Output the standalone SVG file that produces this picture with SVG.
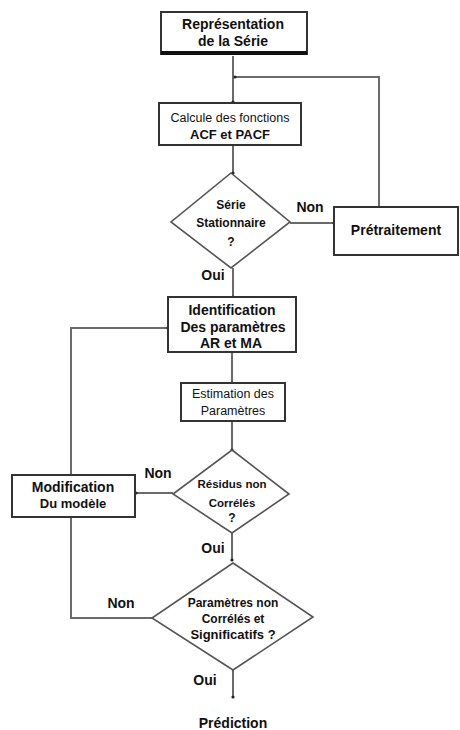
<svg xmlns="http://www.w3.org/2000/svg" width="460" height="730" viewBox="0 0 460 730">
<style>
.box{fill:#fff;stroke:#333;stroke-width:2}
.dia{fill:#fff;stroke:#555;stroke-width:1.6}
.ln{fill:none;stroke:#6a6a6a;stroke-width:2}
.t{font-family:"Liberation Sans",Arial,sans-serif;font-weight:bold;font-size:14px;fill:#111;text-anchor:middle}
.s{font-family:"Liberation Sans",Arial,sans-serif;font-size:12.5px;fill:#111;text-anchor:middle}
.sb{font-family:"Liberation Sans",Arial,sans-serif;font-weight:bold;font-size:12px;fill:#111;text-anchor:middle}
</style>
<defs>
<marker id="dot" markerWidth="4" markerHeight="4" refX="2" refY="2" markerUnits="userSpaceOnUse">
<circle cx="2" cy="2" r="1.6" fill="#222"/>
</marker>
</defs>
<g id="connectors">
<path class="ln" d="M233,56 V102" marker-end="url(#dot)"/>
<path class="ln" d="M379,207 V77 H235" marker-end="url(#dot)"/>
<path class="ln" d="M233,145 V173" marker-end="url(#dot)"/>
<path class="ln" d="M290,223 H334" marker-end="url(#dot)"/>
<path class="ln" d="M233,268 V297" marker-end="url(#dot)"/>
<path class="ln" d="M232,352 V383" marker-end="url(#dot)"/>
<path class="ln" d="M232,421 V450" marker-end="url(#dot)"/>
<path class="ln" d="M173,493 H136" marker-end="url(#dot)"/>
<path class="ln" d="M232,533 V560" marker-end="url(#dot)"/>
<path class="ln" d="M152,618 H71 V517"/>
<path class="ln" d="M71,475 V328 H168" marker-end="url(#dot)"/>
<path class="ln" d="M233,670 V697" marker-end="url(#dot)"/>
<text class="t" x="310" y="212">Non</text>
<text class="t" x="213" y="280">Oui</text>
<text class="t" x="158" y="478">Non</text>
<text class="t" x="213" y="553">Oui</text>
<text class="t" x="121" y="608">Non</text>
<text class="t" x="205" y="685">Oui</text>
</g>
<g id="representation">
<rect class="box" x="161" y="12" width="146" height="42"/>
<rect x="161" y="51" width="146" height="4" fill="#111"/>
<text class="t" x="233" y="29">Représentation</text>
<text class="t" x="233" y="46">de la Série</text>
</g>
<g id="calcule">
<rect class="box" x="159" y="103" width="142" height="42"/>
<text class="s" x="230" y="122">Calcule des fonctions</text>
<text class="t" x="230" y="139" style="font-size:13px">ACF et PACF</text>
</g>
<g id="stationnaire">
<polygon class="dia" points="231,173 290,222 231,268 171,222"/>
<text class="sb" x="231" y="209">Série</text>
<text class="sb" x="231" y="227">Stationnaire</text>
<text class="sb" x="231" y="246">?</text>
</g>
<g id="pretraitement">
<rect class="box" x="334" y="207" width="124" height="48"/>
<text class="t" x="396" y="235">Prétraitement</text>
</g>
<g id="identification">
<rect class="box" x="168" y="297" width="128" height="55"/>
<text class="t" x="232" y="315">Identification</text>
<text class="t" x="233" y="332">Des paramètres</text>
<text class="t" x="231" y="348">AR et MA</text>
</g>
<g id="estimation">
<rect class="box" x="181" y="383" width="104" height="38"/>
<text class="s" x="233" y="398">Estimation des</text>
<text class="s" x="233" y="415">Paramètres</text>
</g>
<g id="residus">
<polygon class="dia" points="232,450 289,494 232,533 173,494"/>
<text class="sb" x="232" y="488" style="font-size:11.5px">Résidus non</text>
<text class="sb" x="232" y="507" style="font-size:11.5px">Corrélés</text>
<text class="sb" x="232" y="522">?</text>
</g>
<g id="modification">
<rect class="box" x="12" y="475" width="123" height="42"/>
<text class="t" x="73" y="492">Modification</text>
<text class="t" x="73" y="508" style="font-size:13px">Du modèle</text>
</g>
<g id="parametres">
<polygon class="dia" points="233,563 313,617 233,670 152,618"/>
<text class="sb" x="233" y="607">Paramètres non</text>
<text class="sb" x="233" y="623">Corrélés et</text>
<text class="sb" x="233" y="639" style="font-size:13px">Significatifs ?</text>
</g>
<g id="prediction">
<text class="t" x="233" y="728">Prédiction</text>
</g>
</svg>
